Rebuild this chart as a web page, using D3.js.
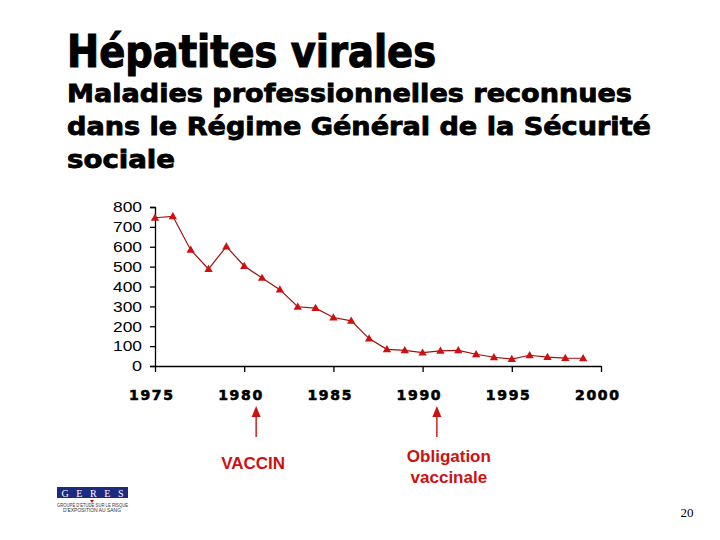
<!DOCTYPE html>
<html>
<head>
<meta charset="utf-8">
<script src="https://cdn.jsdelivr.net/npm/d3@7"></script>
<style>
  body { margin: 0; background: #fff; }
  text { font-family: "Liberation Sans", Arial, sans-serif; }
</style>
</head>
<body>
<script>
const years = d3.range(1975, 2000);
const cases = [746, 753, 584, 488, 601, 503, 443, 384, 298, 291, 244, 227, 138, 84,
               79, 67, 76, 79, 59, 44, 35, 54, 45, 40, 39];
const yTicks = [0, 100, 200, 300, 400, 500, 600, 700, 800];
const xTicks = [1975, 1980, 1985, 1990, 1995, 2000];
const subtitle = ["Maladies professionnelles reconnues",
                  "dans le Régime Général de la Sécurité",
                  "sociale"];
const notes = [{year: 1980.67, dx: -3, lines: ["VACCIN"]},
               {year: 1990.8, dx: 12, lines: ["Obligation", "vaccinale"]}];

const width = 720, height = 540;
const margin = {left: 155, top: 207};
const plot = {width: 446, height: 159};
const heavy = "'DejaVu Sans', Verdana, sans-serif";

let svg = d3.select("body").append("svg")
        .attr("width", width)
        .attr("height", height);

// titles (Arial Black look: heavy font, a bit of stroke, squeezed to width)
svg.append("text")
   .attr("x", 67).attr("y", 67)
   .attr("font-size", 44).attr("font-weight", "bold")
   .style("font-family", heavy)
   .attr("stroke", "#000").attr("stroke-width", 1.2)
   .attr("textLength", 369).attr("lengthAdjust", "spacingAndGlyphs")
   .text("Hépatites virales");

const subWidths = [565, 584, 108];
subtitle.forEach(function(s, i){
  svg.append("text")
     .attr("x", 67).attr("y", 102 + i * 33)
     .attr("font-size", 24).attr("font-weight", "bold")
     .style("font-family", heavy)
     .attr("stroke", "#000").attr("stroke-width", 0.8)
     .attr("textLength", subWidths[i]).attr("lengthAdjust", "spacingAndGlyphs")
     .text(s);
});

let x = d3.scaleLinear().domain([1975, 2000]).range([0, plot.width]);
let y = d3.scaleLinear().domain([0, 800]).range([plot.height, 0]);

let g = svg.append("g")
        .attr("transform", "translate(" + margin.left + "," + margin.top + ")");

let yAxis = g.append("g")
   .call(d3.axisLeft(y).tickValues(yTicks).tickSize(5).tickPadding(8));
yAxis.selectAll("text").attr("font-size", 15).attr("fill", "#000")
     .attr("textLength", d => d === 0 ? 10 : 29).attr("lengthAdjust", "spacingAndGlyphs")
     .style("font-family", "'Liberation Sans', Arial, sans-serif");

let xAxis = g.append("g")
   .attr("transform", "translate(0," + plot.height + ")")
   .call(d3.axisBottom(x).tickValues(xTicks).tickFormat(d3.format("d"))
         .tickSize(6).tickSizeOuter(0).tickPadding(18));
xAxis.selectAll("text").attr("font-size", 14).attr("font-weight", "bold")
     .attr("fill", "#000").attr("dx", -4.5)
     .attr("stroke", "#000").attr("stroke-width", 0.6)
     .attr("textLength", 44).attr("lengthAdjust", "spacing")
     .style("font-family", heavy);
g.selectAll(".domain, .tick line").attr("stroke", "#000").attr("stroke-width", 1.3);

let line = d3.line().x((d, i) => x(years[i])).y(d => y(d));
g.append("path")
 .datum(cases)
 .attr("d", line)
 .attr("fill", "none")
 .attr("stroke", "#a01010")
 .attr("stroke-width", 1.2);

let tri = d3.symbol().type(d3.symbolTriangle).size(30);
g.selectAll(".pt").data(cases).enter().append("path")
 .attr("class", "pt")
 .attr("d", tri)
 .attr("transform", (d, i) => "translate(" + x(years[i]) + "," + (y(d) + 0.5) + ")")
 .attr("fill", "#d01010");

// annotation arrows
const red = "#cc1111";
notes.forEach(function(n){
  let ax = margin.left + x(n.year);
  svg.append("line")
     .attr("x1", ax).attr("x2", ax)
     .attr("y1", 437).attr("y2", 414)
     .attr("stroke", red).attr("stroke-width", 1.4);
  svg.append("polygon")
     .attr("points", ax + "," + 406 + " " + (ax - 4.5) + "," + 417 + " " + (ax + 4.5) + "," + 417)
     .attr("fill", red);
  n.lines.forEach(function(t, i){
    svg.append("text")
       .attr("x", ax + n.dx)
       .attr("y", (n.lines.length > 1 ? 462 : 469) + i * 21)
       .attr("text-anchor", "middle")
       .attr("font-size", 17).attr("font-weight", "bold")
       .attr("fill", red)
       .text(t);
  });
});

// logo
let logo = svg.append("g").attr("transform", "translate(57,487)");
logo.append("rect").attr("width", 71).attr("height", 11).attr("fill", "#1c2a80");
logo.append("text").attr("x", 35.5).attr("y", 9.5).attr("text-anchor", "middle")
    .attr("font-size", 10).attr("fill", "#fff")
    .style("font-family", "'Liberation Serif', serif")
    .attr("textLength", 62).attr("lengthAdjust", "spacing")
    .text("GERES");
logo.append("path").attr("d", "M33,13 L37,13 L35,16 Z").attr("fill", "#c01818");
logo.append("text").attr("x", 0).attr("y", 20).attr("font-size", 4.5)
    .attr("fill", "#333").attr("textLength", 71).attr("lengthAdjust", "spacingAndGlyphs")
    .text("GROUPE D'ETUDE SUR LE RISQUE");
logo.append("text").attr("x", 6).attr("y", 25).attr("font-size", 4.5)
    .attr("fill", "#333").attr("textLength", 58).attr("lengthAdjust", "spacingAndGlyphs")
    .text("D'EXPOSITION AU SANG");

svg.append("text")
   .attr("x", 687).attr("y", 517).attr("text-anchor", "middle")
   .attr("font-size", 13)
   .style("font-family", "'Liberation Serif', serif")
   .text("20");
</script>
</body>
</html>
